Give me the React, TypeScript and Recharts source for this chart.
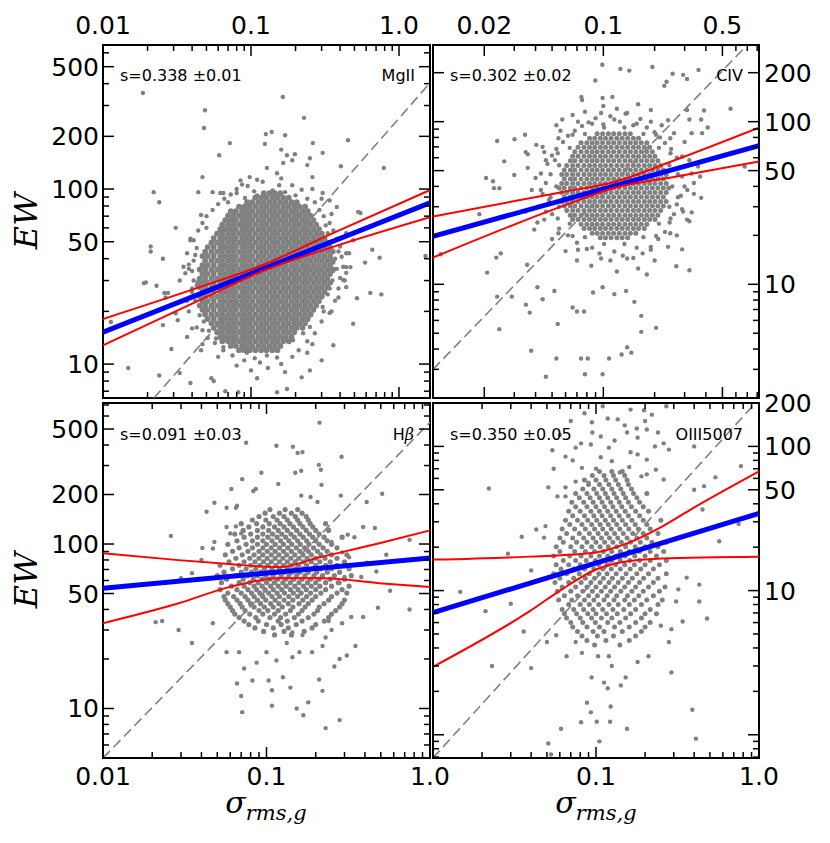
import React from "react";
import { ComposedChart, Scatter, Line, XAxis, YAxis, ReferenceArea } from "recharts";

type Row = [number, number[]]; // [EW, sigma values on that row]
type Pair = [number, number]; // [sigma, EW]

// ---------- MgII (top left) ----------
const MGII_CORE: Row[] = [
  [12.0, [0.083, 0.09, 0.098, 0.107, 0.117, 0.127, 0.139, 0.151]],
  [12.7, [0.073, 0.079, 0.087, 0.094, 0.102, 0.112, 0.122, 0.133, 0.145, 0.158]],
  [13.5, [0.064, 0.07, 0.076, 0.083, 0.09, 0.098, 0.107, 0.117, 0.127, 0.139, 0.151, 0.165, 0.18]],
  [14.3, [0.062, 0.067, 0.073, 0.079, 0.087, 0.094, 0.102, 0.112, 0.122, 0.133, 0.145, 0.158, 0.172, 0.188]],
  [15.2, [0.059, 0.064, 0.07, 0.076, 0.083, 0.09, 0.098, 0.107, 0.117, 0.127, 0.139, 0.151, 0.165, 0.18, 0.196]],
  [16.1, [0.056, 0.062, 0.067, 0.073, 0.079, 0.087, 0.094, 0.102, 0.112, 0.122, 0.133, 0.145, 0.158, 0.172, 0.188, 0.204, 0.223]],
  [17.1, [0.054, 0.059, 0.064, 0.07, 0.076, 0.083, 0.09, 0.098, 0.107, 0.117, 0.127, 0.139, 0.151, 0.165, 0.18, 0.196, 0.213, 0.232]],
  [18.1, [0.051, 0.056, 0.062, 0.067, 0.073, 0.079, 0.087, 0.094, 0.102, 0.112, 0.122, 0.133, 0.145, 0.158, 0.172, 0.188, 0.204, 0.223, 0.242]],
  [19.2, [0.049, 0.054, 0.059, 0.064, 0.07, 0.076, 0.083, 0.09, 0.098, 0.107, 0.117, 0.127, 0.139, 0.151, 0.165, 0.18, 0.196, 0.213, 0.232, 0.253]],
  [20.4, [0.047, 0.051, 0.056, 0.062, 0.067, 0.073, 0.079, 0.087, 0.094, 0.102, 0.112, 0.122, 0.133, 0.145, 0.158, 0.172, 0.188, 0.204, 0.223, 0.242, 0.264]],
  [21.6, [0.045, 0.049, 0.054, 0.059, 0.064, 0.07, 0.076, 0.083, 0.09, 0.098, 0.107, 0.117, 0.127, 0.139, 0.151, 0.165, 0.18, 0.196, 0.213, 0.232, 0.253, 0.276]],
  [22.9, [0.047, 0.051, 0.056, 0.062, 0.067, 0.073, 0.079, 0.087, 0.094, 0.102, 0.112, 0.122, 0.133, 0.145, 0.158, 0.172, 0.188, 0.204, 0.223, 0.242, 0.264, 0.288]],
  [24.3, [0.045, 0.049, 0.054, 0.059, 0.064, 0.07, 0.076, 0.083, 0.09, 0.098, 0.107, 0.117, 0.127, 0.139, 0.151, 0.165, 0.18, 0.196, 0.213, 0.232, 0.253, 0.276, 0.301]],
  [25.8, [0.047, 0.051, 0.056, 0.062, 0.067, 0.073, 0.079, 0.087, 0.094, 0.102, 0.112, 0.122, 0.133, 0.145, 0.158, 0.172, 0.188, 0.204, 0.223, 0.242, 0.264, 0.288, 0.314]],
  [27.4, [0.045, 0.049, 0.054, 0.059, 0.064, 0.07, 0.076, 0.083, 0.09, 0.098, 0.107, 0.117, 0.127, 0.139, 0.151, 0.165, 0.18, 0.196, 0.213, 0.232, 0.253, 0.276, 0.301, 0.328]],
  [29.1, [0.044, 0.047, 0.051, 0.056, 0.062, 0.067, 0.073, 0.079, 0.087, 0.094, 0.102, 0.112, 0.122, 0.133, 0.145, 0.158, 0.172, 0.188, 0.204, 0.223, 0.242, 0.264, 0.288, 0.314, 0.342]],
  [30.8, [0.045, 0.049, 0.054, 0.059, 0.064, 0.07, 0.076, 0.083, 0.09, 0.098, 0.107, 0.117, 0.127, 0.139, 0.151, 0.165, 0.18, 0.196, 0.213, 0.232, 0.253, 0.276, 0.301, 0.328]],
  [32.7, [0.047, 0.051, 0.056, 0.062, 0.067, 0.073, 0.079, 0.087, 0.094, 0.102, 0.112, 0.122, 0.133, 0.145, 0.158, 0.172, 0.188, 0.204, 0.223, 0.242, 0.264, 0.288, 0.314, 0.342]],
  [34.7, [0.045, 0.049, 0.054, 0.059, 0.064, 0.07, 0.076, 0.083, 0.09, 0.098, 0.107, 0.117, 0.127, 0.139, 0.151, 0.165, 0.18, 0.196, 0.213, 0.232, 0.253, 0.276, 0.301, 0.328, 0.357]],
  [36.8, [0.047, 0.051, 0.056, 0.062, 0.067, 0.073, 0.079, 0.087, 0.094, 0.102, 0.112, 0.122, 0.133, 0.145, 0.158, 0.172, 0.188, 0.204, 0.223, 0.242, 0.264, 0.288, 0.314, 0.342]],
  [39.0, [0.049, 0.054, 0.059, 0.064, 0.07, 0.076, 0.083, 0.09, 0.098, 0.107, 0.117, 0.127, 0.139, 0.151, 0.165, 0.18, 0.196, 0.213, 0.232, 0.253, 0.276, 0.301, 0.328, 0.357]],
  [41.4, [0.047, 0.051, 0.056, 0.062, 0.067, 0.073, 0.079, 0.087, 0.094, 0.102, 0.112, 0.122, 0.133, 0.145, 0.158, 0.172, 0.188, 0.204, 0.223, 0.242, 0.264, 0.288, 0.314, 0.342]],
  [43.9, [0.049, 0.054, 0.059, 0.064, 0.07, 0.076, 0.083, 0.09, 0.098, 0.107, 0.117, 0.127, 0.139, 0.151, 0.165, 0.18, 0.196, 0.213, 0.232, 0.253, 0.276, 0.301, 0.328, 0.357]],
  [46.6, [0.051, 0.056, 0.062, 0.067, 0.073, 0.079, 0.087, 0.094, 0.102, 0.112, 0.122, 0.133, 0.145, 0.158, 0.172, 0.188, 0.204, 0.223, 0.242, 0.264, 0.288, 0.314, 0.342]],
  [49.4, [0.054, 0.059, 0.064, 0.07, 0.076, 0.083, 0.09, 0.098, 0.107, 0.117, 0.127, 0.139, 0.151, 0.165, 0.18, 0.196, 0.213, 0.232, 0.253, 0.276, 0.301, 0.328]],
  [52.4, [0.056, 0.062, 0.067, 0.073, 0.079, 0.087, 0.094, 0.102, 0.112, 0.122, 0.133, 0.145, 0.158, 0.172, 0.188, 0.204, 0.223, 0.242, 0.264, 0.288, 0.314]],
  [55.6, [0.059, 0.064, 0.07, 0.076, 0.083, 0.09, 0.098, 0.107, 0.117, 0.127, 0.139, 0.151, 0.165, 0.18, 0.196, 0.213, 0.232, 0.253, 0.276, 0.301]],
  [59.0, [0.062, 0.067, 0.073, 0.079, 0.087, 0.094, 0.102, 0.112, 0.122, 0.133, 0.145, 0.158, 0.172, 0.188, 0.204, 0.223, 0.242, 0.264, 0.288]],
  [62.6, [0.064, 0.07, 0.076, 0.083, 0.09, 0.098, 0.107, 0.117, 0.127, 0.139, 0.151, 0.165, 0.18, 0.196, 0.213, 0.232, 0.253, 0.276]],
  [66.4, [0.067, 0.073, 0.079, 0.087, 0.094, 0.102, 0.112, 0.122, 0.133, 0.145, 0.158, 0.172, 0.188, 0.204, 0.223, 0.242, 0.264]],
  [70.4, [0.07, 0.076, 0.083, 0.09, 0.098, 0.107, 0.117, 0.127, 0.139, 0.151, 0.165, 0.18, 0.196, 0.213, 0.232, 0.253]],
  [74.7, [0.073, 0.079, 0.087, 0.094, 0.102, 0.112, 0.122, 0.133, 0.145, 0.158, 0.172, 0.188, 0.204, 0.223, 0.242]],
  [79.3, [0.083, 0.09, 0.098, 0.107, 0.117, 0.127, 0.139, 0.151, 0.165, 0.18, 0.196, 0.213, 0.232]],
  [84.1, [0.094, 0.102, 0.112, 0.122, 0.133, 0.145, 0.158, 0.172, 0.188, 0.204]],
  [89.2, [0.107, 0.117, 0.127, 0.139, 0.151, 0.165, 0.18]],
  [94.7, [0.122, 0.133, 0.145, 0.158]],
];
const MGII_SPREAD: Pair[] = [
  [0.0186, 354], [0.0489, 282], [0.0482, 223], [0.164, 336], [0.228, 255], [0.126, 206], [0.138, 212], [0.17, 203],
  [0.072, 183], [0.061, 156], [0.124, 181], [0.16, 168], [0.175, 156], [0.198, 158], [0.262, 183], [0.305, 161],
  [0.452, 190], [0.79, 132], [0.405, 135], [0.25, 150], [0.022, 96], [0.024, 84], [0.031, 60], [0.021, 47],
  [0.021, 44], [0.0254, 40], [0.0189, 29], [0.0195, 29.3], [0.023, 28], [0.026, 25.5], [0.0148, 9.5], [0.0113, 17.4],
  [0.0254, 16.7], [0.029, 12.2], [0.024, 8.6], [0.039, 7.8], [0.033, 8.9], [0.046, 12], [0.054, 8.3], [0.056, 8.0],
  [0.067, 7], [0.082, 6.9], [0.11, 8.3], [0.15, 6.9], [0.175, 7.2], [0.22, 8.4], [0.25, 9.2], [0.24, 11.6],
  [0.3, 10.5], [0.36, 12.8], [0.49, 17], [0.52, 23.8], [0.64, 25.5], [0.76, 25], [0.66, 45], [0.74, 40.5],
  [0.59, 38], [0.44, 35.8], [0.44, 33.2], [0.44, 27.5], [0.55, 73], [1.51, 41.4],
  [0.047, 117], [0.044, 96], [0.055, 96], [0.065, 95], [0.041, 51], [0.039, 51], [0.035, 36], [0.038, 35],
  [0.0275, 25.5], [0.0265, 24], [0.031, 19.5], [0.032, 17.8], [0.037, 23], [0.04, 25.8], [0.043, 16.2], [0.047, 15.6],
  [0.037, 14.3], [0.051, 14.1], [0.057, 13.2], [0.065, 12.5], [0.094, 11.6], [0.106, 10.8], [0.128, 11.2], [0.15, 10.9],
  [0.192, 13.7], [0.225, 15], [0.25, 16.3], [0.305, 21.2], [0.34, 19.6], [0.39, 24], [0.42, 30.2], [0.47, 35.8],
  [0.44, 43], [0.49, 51], [0.53, 74], [0.38, 79], [0.34, 86], [0.305, 95], [0.26, 117], [0.24, 137],
  [0.19, 146], [0.15, 123], [0.165, 141], [0.128, 132], [0.11, 113], [0.087, 106], [0.098, 117], [0.08, 95],
  [0.091, 89], [0.11, 92],
  [0.038, 20], [0.04, 27], [0.036, 33], [0.041, 39], [0.043, 46], [0.039, 52], [0.044, 58], [0.047, 64],
  [0.05, 70], [0.055, 76], [0.06, 82], [0.066, 88], [0.073, 93], [0.08, 100], [0.095, 104], [0.105, 97],
  [0.14, 98], [0.155, 105], [0.17, 96], [0.2, 92], [0.22, 99], [0.24, 88], [0.27, 84], [0.29, 76],
  [0.31, 70], [0.34, 64], [0.36, 58], [0.38, 52], [0.4, 47], [0.41, 41], [0.42, 36], [0.4, 31],
  [0.39, 27], [0.37, 23], [0.35, 20], [0.3, 17.5], [0.27, 15], [0.24, 13.5], [0.21, 12], [0.19, 11],
  [0.16, 10], [0.13, 9.5], [0.115, 10.2], [0.09, 10.5], [0.075, 11.2], [0.065, 12], [0.058, 14], [0.052, 15.5],
  [0.048, 17.5], [0.045, 19], [0.042, 23], [0.033, 30], [0.037, 43], [0.046, 71], [0.062, 95], [0.12, 110],
  [0.19, 105], [0.3, 88], [0.35, 72], [0.44, 56], [0.46, 43], [0.36, 34], [0.43, 30], [0.33, 25],
  [0.31, 20], [0.26, 13], [0.17, 9], [0.1, 9.2], [0.08, 9.8], [0.06, 11], [0.047, 13], [0.04, 16],
  [0.038, 37], [0.05, 60], [0.07, 84], [0.085, 112], [0.16, 115], [0.26, 100],
  [0.35, 45], [0.37, 40], [0.355, 30], [0.345, 50], [0.38, 35], [0.33, 56], [0.32, 62], [0.34, 27],
  [0.36, 38], [0.39, 44], [0.041, 30], [0.04, 34], [0.042, 42], [0.039, 24], [0.043, 28],
];
const MGII_FIT: Pair[] = [[0.01, 15.2], [1.62, 83.3]];
const MGII_UPPER: Pair[] = [[0.01, 18.1], [0.045, 27.5], [0.12, 36.8], [0.358, 56], [1.62, 98.6]];
const MGII_LOWER: Pair[] = [[0.01, 12.8], [0.045, 23.2], [0.12, 34.0], [0.358, 46.7], [1.62, 69]];
const MGII_DIAG: Pair[] = [[0.0221, 6.4], [1.62, 404]];

// ---------- CIV (top right) ----------
const CIV_CORE: Row[] = [
  [19.3, [0.096, 0.103, 0.111, 0.12, 0.129, 0.139]],
  [20.6, [0.086, 0.092, 0.099, 0.107, 0.115, 0.124, 0.134, 0.144, 0.155]],
  [22.0, [0.077, 0.083, 0.089, 0.096, 0.103, 0.111, 0.12, 0.129, 0.139, 0.15, 0.161, 0.174]],
  [23.4, [0.074, 0.08, 0.086, 0.092, 0.099, 0.107, 0.115, 0.124, 0.134, 0.144, 0.155, 0.167, 0.18]],
  [25.0, [0.066, 0.071, 0.077, 0.083, 0.089, 0.096, 0.103, 0.111, 0.12, 0.129, 0.139, 0.15, 0.161, 0.174, 0.187, 0.201]],
  [26.6, [0.064, 0.068, 0.074, 0.08, 0.086, 0.092, 0.099, 0.107, 0.115, 0.124, 0.134, 0.144, 0.155, 0.167, 0.18, 0.194, 0.209]],
  [28.4, [0.061, 0.066, 0.071, 0.077, 0.083, 0.089, 0.096, 0.103, 0.111, 0.12, 0.129, 0.139, 0.15, 0.161, 0.174, 0.187, 0.201, 0.217]],
  [30.3, [0.059, 0.064, 0.068, 0.074, 0.08, 0.086, 0.092, 0.099, 0.107, 0.115, 0.124, 0.134, 0.144, 0.155, 0.167, 0.18, 0.194, 0.209, 0.225]],
  [32.3, [0.057, 0.061, 0.066, 0.071, 0.077, 0.083, 0.089, 0.096, 0.103, 0.111, 0.12, 0.129, 0.139, 0.15, 0.161, 0.174, 0.187, 0.201, 0.217, 0.234]],
  [34.4, [0.059, 0.064, 0.068, 0.074, 0.08, 0.086, 0.092, 0.099, 0.107, 0.115, 0.124, 0.134, 0.144, 0.155, 0.167, 0.18, 0.194, 0.209, 0.225]],
  [36.7, [0.057, 0.061, 0.066, 0.071, 0.077, 0.083, 0.089, 0.096, 0.103, 0.111, 0.12, 0.129, 0.139, 0.15, 0.161, 0.174, 0.187, 0.201, 0.217, 0.234]],
  [39.1, [0.055, 0.059, 0.064, 0.068, 0.074, 0.08, 0.086, 0.092, 0.099, 0.107, 0.115, 0.124, 0.134, 0.144, 0.155, 0.167, 0.18, 0.194, 0.209, 0.225, 0.242]],
  [41.7, [0.057, 0.061, 0.066, 0.071, 0.077, 0.083, 0.089, 0.096, 0.103, 0.111, 0.12, 0.129, 0.139, 0.15, 0.161, 0.174, 0.187, 0.201, 0.217, 0.234]],
  [44.4, [0.059, 0.064, 0.068, 0.074, 0.08, 0.086, 0.092, 0.099, 0.107, 0.115, 0.124, 0.134, 0.144, 0.155, 0.167, 0.18, 0.194, 0.209, 0.225]],
  [47.4, [0.057, 0.061, 0.066, 0.071, 0.077, 0.083, 0.089, 0.096, 0.103, 0.111, 0.12, 0.129, 0.139, 0.15, 0.161, 0.174, 0.187, 0.201, 0.217, 0.234]],
  [50.5, [0.059, 0.064, 0.068, 0.074, 0.08, 0.086, 0.092, 0.099, 0.107, 0.115, 0.124, 0.134, 0.144, 0.155, 0.167, 0.18, 0.194, 0.209, 0.225]],
  [53.8, [0.061, 0.066, 0.071, 0.077, 0.083, 0.089, 0.096, 0.103, 0.111, 0.12, 0.129, 0.139, 0.15, 0.161, 0.174, 0.187, 0.201, 0.217]],
  [57.4, [0.064, 0.068, 0.074, 0.08, 0.086, 0.092, 0.099, 0.107, 0.115, 0.124, 0.134, 0.144, 0.155, 0.167, 0.18, 0.194, 0.209]],
  [61.2, [0.066, 0.071, 0.077, 0.083, 0.089, 0.096, 0.103, 0.111, 0.12, 0.129, 0.139, 0.15, 0.161, 0.174, 0.187, 0.201]],
  [65.2, [0.068, 0.074, 0.08, 0.086, 0.092, 0.099, 0.107, 0.115, 0.124, 0.134, 0.144, 0.155, 0.167, 0.18, 0.194]],
  [69.5, [0.071, 0.077, 0.083, 0.089, 0.096, 0.103, 0.111, 0.12, 0.129, 0.139, 0.15, 0.161, 0.174, 0.187]],
  [74.1, [0.074, 0.08, 0.086, 0.092, 0.099, 0.107, 0.115, 0.124, 0.134, 0.144, 0.155, 0.167, 0.18]],
  [79.0, [0.083, 0.089, 0.096, 0.103, 0.111, 0.12, 0.129, 0.139, 0.15, 0.161]],
  [84.2, [0.092, 0.099, 0.107, 0.115, 0.124, 0.134, 0.144]],
];
const CIV_SPREAD: Pair[] = [
  [0.0986, 224], [0.126, 211], [0.142, 206], [0.194, 217], [0.0897, 179], [0.255, 197], [0.294, 194], [0.31, 183],
  [0.362, 208], [0.235, 176], [0.228, 166], [0.558, 120], [0.39, 117], [0.375, 103], [0.41, 92], [0.38, 85],
  [0.0743, 142], [0.075, 136], [0.099, 140], [0.113, 142], [0.0574, 103], [0.053, 95], [0.0347, 83], [0.0301, 78],
  [0.0238, 76], [0.0404, 72], [0.044, 70], [0.035, 65], [0.036, 63], [0.0262, 57], [0.03, 47], [0.0205, 45],
  [0.0225, 43], [0.0245, 39], [0.0228, 39], [0.0187, 27], [0.0111, 15.3], [0.0235, 14.6], [0.025, 15.5], [0.0208, 11.8],
  [0.0357, 13.2], [0.0393, 21.7], [0.041, 24], [0.0238, 8.4], [0.029, 8.4], [0.0245, 5.3], [0.0351, 7.5], [0.037, 6.7],
  [0.041, 9.6], [0.044, 8.1], [0.0516, 9.1], [0.054, 5.7], [0.0377, 3.9], [0.053, 3.5], [0.046, 2.7], [0.074, 3.5],
  [0.081, 3.5], [0.078, 2.8], [0.099, 2.8], [0.108, 3.5], [0.128, 3.7], [0.138, 4.1], [0.146, 3.8], [0.167, 5.1],
  [0.204, 5.4], [0.167, 6.4], [0.066, 7.2], [0.07, 6.8], [0.077, 6.8], [0.087, 8.9], [0.099, 9.6], [0.116, 8.7],
  [0.136, 9.1], [0.152, 7.8], [0.18, 11.5], [0.268, 12.9], [0.32, 12.2], [0.29, 16.4], [0.32, 24.4], [0.33, 27.7],
  [0.375, 34], [0.34, 42], [0.37, 46], [0.36, 53], [0.33, 85], [0.32, 103], [0.31, 118], [0.675, 53],
  [0.045, 25], [0.042, 30], [0.044, 36], [0.046, 42], [0.043, 48], [0.047, 55], [0.05, 62], [0.053, 68],
  [0.058, 75], [0.062, 82], [0.068, 88], [0.075, 94], [0.082, 99], [0.09, 105], [0.1, 96], [0.11, 108],
  [0.125, 100], [0.135, 112], [0.15, 95], [0.165, 104], [0.18, 92], [0.2, 86], [0.215, 80], [0.23, 74],
  [0.25, 68], [0.27, 60], [0.28, 52], [0.29, 46], [0.3, 40], [0.285, 35], [0.27, 31], [0.26, 27],
  [0.245, 24], [0.23, 21], [0.21, 19], [0.19, 17], [0.17, 15.5], [0.15, 14.5], [0.13, 15], [0.11, 14],
  [0.095, 15.5], [0.08, 16.5], [0.07, 18], [0.062, 20], [0.055, 22], [0.05, 27], [0.048, 33], [0.038, 38],
  [0.04, 45], [0.036, 52], [0.052, 58], [0.066, 110], [0.078, 115], [0.12, 120], [0.19, 118], [0.22, 95],
  [0.26, 85], [0.32, 58], [0.34, 36], [0.31, 25], [0.27, 20], [0.2, 14], [0.12, 12], [0.085, 13],
  [0.06, 16], [0.05, 19], [0.035, 28], [0.045, 65], [0.056, 88], [0.1, 125], [0.16, 128], [0.24, 102],
  [0.3, 75], [0.33, 48], [0.29, 29], [0.24, 17], [0.16, 12.5], [0.07, 14],
  [0.254, 40], [0.244, 54], [0.212, 69], [0.172, 84], [0.133, 92], [0.101, 92], [0.078, 84], [0.0635, 69],
  [0.055, 54], [0.053, 40], [0.055, 30], [0.0635, 23.6], [0.078, 19.5], [0.101, 17.7], [0.133, 17.7], [0.172, 19.5],
  [0.212, 23.6], [0.244, 30],
  [0.274, 47.5], [0.248, 64], [0.204, 83], [0.157, 97], [0.116, 103], [0.086, 97], [0.066, 83], [0.054, 64],
  [0.049, 47.5], [0.049, 34.3], [0.054, 25.4], [0.066, 19.8], [0.086, 16.8], [0.116, 15.9], [0.157, 16.8], [0.204, 19.8],
  [0.248, 25.4], [0.274, 34.3],
  [0.311, 38], [0.29, 61], [0.247, 79], [0.19, 100], [0.138, 113], [0.097, 113], [0.071, 100], [0.0545, 79],
  [0.046, 58], [0.043, 38], [0.046, 28], [0.0545, 20.6], [0.071, 16.3], [0.097, 14.4], [0.138, 14.4], [0.19, 16.3],
  [0.247, 20.6], [0.294, 28],
];
const CIV_FIT: Pair[] = [[0.01, 19.7], [0.82, 71.3]];
const CIV_UPPER: Pair[] = [[0.01, 26.1], [0.055, 36.6], [0.119, 42.9], [0.269, 58.5], [0.82, 91.9]];
const CIV_LOWER: Pair[] = [[0.01, 14.6], [0.055, 29.7], [0.119, 39.4], [0.269, 46], [0.82, 56.9]];
const CIV_DIAG: Pair[] = [[0.01, 3.0], [0.7, 296]];

// ---------- Hbeta (bottom left) ----------
const HB_CORE: Row[] = [
  [28, [0.112, 0.142]],
  [29.4, [0.096, 0.128, 0.17]],
  [30.9, [0.085, 0.11, 0.136, 0.19]],
  [32.4, [0.078, 0.1, 0.123, 0.152, 0.2]],
  [34, [0.073, 0.089, 0.118, 0.134, 0.165, 0.226]],
  [35.7, [0.068, 0.086, 0.105, 0.122, 0.148, 0.18, 0.24]],
  [37.5, [0.064, 0.079, 0.095, 0.112, 0.131, 0.157, 0.195, 0.25]],
  [39.4, [0.062, 0.074, 0.09, 0.102, 0.118, 0.14, 0.165, 0.205, 0.265]],
  [41.4, [0.06, 0.071, 0.084, 0.097, 0.11, 0.125, 0.145, 0.172, 0.21, 0.28]],
  [43.4, [0.058, 0.069, 0.08, 0.092, 0.106, 0.119, 0.136, 0.158, 0.18, 0.225, 0.29]],
  [45.6, [0.056, 0.066, 0.077, 0.088, 0.099, 0.113, 0.128, 0.145, 0.167, 0.19, 0.24, 0.3]],
  [47.9, [0.055, 0.063, 0.074, 0.084, 0.095, 0.108, 0.12, 0.137, 0.155, 0.176, 0.2, 0.25]],
  [50.3, [0.058, 0.07, 0.081, 0.091, 0.103, 0.116, 0.129, 0.146, 0.163, 0.186, 0.215, 0.27, 0.31]],
  [52.8, [0.052, 0.066, 0.077, 0.087, 0.098, 0.11, 0.124, 0.14, 0.156, 0.175, 0.2, 0.23, 0.29]],
  [55.4, [0.061, 0.073, 0.084, 0.094, 0.106, 0.118, 0.132, 0.149, 0.168, 0.188, 0.212, 0.25, 0.32]],
  [58.2, [0.053, 0.068, 0.079, 0.089, 0.1, 0.112, 0.126, 0.14, 0.158, 0.178, 0.2, 0.23, 0.275]],
  [61.1, [0.057, 0.072, 0.083, 0.094, 0.105, 0.117, 0.131, 0.147, 0.165, 0.186, 0.21, 0.245, 0.3]],
  [64.2, [0.05, 0.065, 0.077, 0.088, 0.099, 0.11, 0.123, 0.137, 0.153, 0.172, 0.195, 0.22, 0.26, 0.33]],
  [67.4, [0.055, 0.07, 0.081, 0.092, 0.103, 0.115, 0.128, 0.143, 0.16, 0.18, 0.203, 0.235, 0.28]],
  [70.7, [0.062, 0.075, 0.086, 0.097, 0.108, 0.12, 0.134, 0.15, 0.168, 0.19, 0.215, 0.25, 0.32]],
  [74.3, [0.052, 0.068, 0.08, 0.091, 0.102, 0.114, 0.127, 0.141, 0.157, 0.176, 0.2, 0.23, 0.27]],
  [78, [0.059, 0.073, 0.085, 0.096, 0.107, 0.12, 0.134, 0.15, 0.168, 0.188, 0.212, 0.245, 0.3]],
  [81.9, [0.065, 0.079, 0.09, 0.101, 0.113, 0.126, 0.141, 0.158, 0.177, 0.2, 0.228, 0.27]],
  [86, [0.056, 0.071, 0.084, 0.095, 0.107, 0.119, 0.133, 0.149, 0.167, 0.188, 0.215, 0.25, 0.31]],
  [90.3, [0.062, 0.077, 0.09, 0.101, 0.113, 0.127, 0.142, 0.16, 0.18, 0.205, 0.235]],
  [94.8, [0.068, 0.082, 0.095, 0.107, 0.12, 0.135, 0.152, 0.171, 0.194, 0.222, 0.27]],
  [99.5, [0.058, 0.075, 0.088, 0.1, 0.113, 0.127, 0.143, 0.161, 0.182, 0.21, 0.25]],
  [104.5, [0.066, 0.082, 0.095, 0.108, 0.122, 0.137, 0.155, 0.176, 0.2, 0.235]],
  [110, [0.073, 0.088, 0.102, 0.116, 0.131, 0.148, 0.168, 0.192, 0.225, 0.29]],
  [115, [0.064, 0.08, 0.095, 0.109, 0.124, 0.141, 0.16, 0.183, 0.21]],
  [121, [0.072, 0.088, 0.103, 0.118, 0.134, 0.153, 0.175, 0.2, 0.24]],
  [127, [0.078, 0.095, 0.112, 0.128, 0.146, 0.167, 0.192]],
  [133, [0.07, 0.087, 0.104, 0.121, 0.139, 0.16, 0.185, 0.23]],
  [140, [0.082, 0.099, 0.116, 0.134, 0.155, 0.18]],
  [147, [0.09, 0.11, 0.128, 0.15, 0.175]],
  [154, [0.098, 0.12, 0.142, 0.165]],
  [162, [0.105, 0.13, 0.155]],
];
const HB_SPREAD: Pair[] = [
  [0.211, 547], [0.075, 413], [0.115, 396], [0.145, 390], [0.155, 358], [0.166, 362], [0.288, 339], [0.209, 303],
  [0.215, 283], [0.163, 279], [0.15, 271], [0.093, 271], [0.071, 248], [0.061, 216], [0.083, 210], [0.086, 216],
  [0.118, 232], [0.217, 229], [0.285, 197], [0.41, 180], [0.51, 202], [0.048, 178], [0.043, 157], [0.057, 166],
  [0.065, 166], [0.066, 171], [0.163, 197], [0.186, 193], [0.205, 180], [0.026, 112], [0.035, 66.5], [0.03, 62],
  [0.0405, 94.5], [0.04, 80], [0.048, 103], [0.047, 94], [0.057, 127], [0.065, 128], [0.06, 116], [0.07, 116],
  [0.314, 114], [0.39, 127], [0.46, 125], [0.54, 86], [0.75, 106], [0.41, 77], [0.38, 63], [0.47, 68],
  [0.57, 52], [0.48, 41], [0.75, 40], [0.39, 36], [0.33, 36], [0.29, 33], [0.35, 24], [0.31, 21],
  [0.28, 20], [0.26, 18], [0.22, 24], [0.19, 22], [0.21, 15], [0.22, 12.8], [0.18, 10.9], [0.168, 9.1],
  [0.28, 8.5], [0.23, 7.6], [0.153, 10], [0.14, 13.4], [0.126, 15.5], [0.108, 10.4], [0.108, 12.9], [0.103, 14.8],
  [0.071, 9.5], [0.07, 11.9], [0.066, 14.2], [0.082, 14.8], [0.073, 17.5], [0.087, 19], [0.1, 22], [0.115, 19.6],
  [0.144, 20.5], [0.159, 22], [0.057, 22], [0.068, 22], [0.035, 25], [0.047, 33], [0.029, 30], [0.021, 33.5],
  [0.023, 34], [0.28, 58], [0.3, 63], [0.32, 83], [0.29, 89], [0.25, 103], [0.24, 122], [0.345, 110],
  [0.24, 34], [0.25, 30], [0.23, 27], [0.144, 29], [0.166, 28], [0.133, 25],
];
const HB_FIT: Pair[] = [[0.01, 53.9], [1.0, 82.2]];
const HB_UPPER: Pair[] = [[0.01, 88], [0.029, 79.8], [0.059, 75.5], [0.12, 72.4], [0.211, 83], [0.49, 101], [1.0, 121]];
const HB_LOWER: Pair[] = [[0.01, 33], [0.029, 43.6], [0.059, 54.7], [0.12, 62], [0.22, 62], [0.49, 57.8], [1.0, 54.7]];
const HB_DIAG: Pair[] = [[0.01, 5.0], [1.0, 550]];

// ---------- OIII5007 (bottom right) ----------
const OIII_CORE: Row[] = [
  [4.2, [0.098, 0.14]],
  [4.5, [0.088, 0.115, 0.16]],
  [4.85, [0.082, 0.102, 0.128, 0.175]],
  [5.2, [0.077, 0.096, 0.112, 0.145, 0.19]],
  [5.6, [0.072, 0.088, 0.105, 0.13, 0.16, 0.2]],
  [6.0, [0.07, 0.083, 0.099, 0.118, 0.14, 0.175, 0.215]],
  [6.45, [0.066, 0.08, 0.094, 0.108, 0.125, 0.152, 0.19]],
  [6.9, [0.064, 0.076, 0.089, 0.1, 0.116, 0.135, 0.163, 0.2, 0.235]],
  [7.4, [0.062, 0.073, 0.084, 0.096, 0.11, 0.127, 0.148, 0.175, 0.215]],
  [8.0, [0.068, 0.08, 0.091, 0.104, 0.12, 0.137, 0.16, 0.19, 0.24]],
  [8.6, [0.059, 0.071, 0.085, 0.097, 0.112, 0.129, 0.15, 0.172, 0.205, 0.255]],
  [9.2, [0.064, 0.077, 0.09, 0.102, 0.117, 0.134, 0.156, 0.183, 0.225]],
  [9.9, [0.058, 0.07, 0.083, 0.095, 0.108, 0.123, 0.142, 0.166, 0.195, 0.245]],
  [10.6, [0.062, 0.075, 0.088, 0.1, 0.114, 0.13, 0.15, 0.175, 0.21, 0.265]],
  [11.4, [0.056, 0.068, 0.081, 0.093, 0.106, 0.12, 0.137, 0.158, 0.185, 0.225]],
  [12.2, [0.06, 0.073, 0.086, 0.098, 0.111, 0.126, 0.145, 0.167, 0.196, 0.24]],
  [13.1, [0.055, 0.066, 0.079, 0.091, 0.104, 0.117, 0.133, 0.153, 0.178, 0.21, 0.27]],
  [14.1, [0.061, 0.073, 0.085, 0.097, 0.11, 0.124, 0.141, 0.162, 0.188, 0.225]],
  [15.1, [0.057, 0.068, 0.08, 0.092, 0.104, 0.117, 0.132, 0.15, 0.172, 0.2, 0.245]],
  [16.2, [0.063, 0.075, 0.087, 0.099, 0.111, 0.125, 0.141, 0.161, 0.185, 0.215, 0.27]],
  [17.4, [0.055, 0.069, 0.081, 0.093, 0.105, 0.118, 0.133, 0.151, 0.173, 0.2, 0.235]],
  [18.7, [0.06, 0.074, 0.086, 0.098, 0.111, 0.125, 0.141, 0.16, 0.185, 0.215, 0.26]],
  [20.1, [0.057, 0.07, 0.082, 0.094, 0.106, 0.119, 0.134, 0.152, 0.174, 0.2, 0.24]],
  [21.6, [0.063, 0.076, 0.088, 0.1, 0.113, 0.127, 0.143, 0.163, 0.187, 0.22, 0.27]],
  [23.2, [0.06, 0.072, 0.084, 0.096, 0.108, 0.121, 0.136, 0.155, 0.178, 0.205]],
  [24.9, [0.066, 0.079, 0.091, 0.103, 0.116, 0.13, 0.147, 0.168, 0.195, 0.24]],
  [26.7, [0.062, 0.074, 0.086, 0.098, 0.11, 0.124, 0.14, 0.159, 0.182, 0.215]],
  [28.7, [0.069, 0.082, 0.094, 0.106, 0.119, 0.134, 0.152, 0.174, 0.205]],
  [30.8, [0.065, 0.077, 0.089, 0.101, 0.114, 0.128, 0.145, 0.166, 0.195, 0.25]],
  [33.1, [0.072, 0.085, 0.097, 0.109, 0.123, 0.139, 0.158, 0.185]],
  [35.5, [0.068, 0.08, 0.093, 0.105, 0.118, 0.133, 0.151, 0.175, 0.21]],
  [38.1, [0.075, 0.088, 0.1, 0.113, 0.127, 0.144, 0.165, 0.195]],
  [41, [0.071, 0.084, 0.096, 0.109, 0.123, 0.139, 0.158, 0.185]],
  [44, [0.079, 0.092, 0.105, 0.118, 0.134, 0.152, 0.178]],
  [47.2, [0.075, 0.088, 0.101, 0.114, 0.129, 0.147, 0.17, 0.205]],
  [50.7, [0.083, 0.097, 0.11, 0.125, 0.142, 0.165]],
  [54.5, [0.09, 0.105, 0.12, 0.137, 0.158]],
  [58.5, [0.085, 0.1, 0.115, 0.132, 0.155]],
  [62.8, [0.095, 0.112, 0.128, 0.15]],
  [67, [0.105, 0.125, 0.145]],
];
const OIII_SPREAD: Pair[] = [
  [0.0944, 147], [0.118, 156], [0.136, 154], [0.163, 180], [0.197, 178], [0.27, 190], [0.22, 166], [0.205, 131],
  [0.155, 125], [0.178, 133], [0.107, 117], [0.093, 103], [0.081, 105], [0.054, 94], [0.4, 100], [0.28, 95],
  [0.072, 80], [0.082, 71], [0.107, 84], [0.125, 79], [0.163, 91], [0.18, 88], [0.205, 81], [0.233, 69],
  [0.26, 59], [0.205, 64], [0.775, 73], [0.54, 61], [0.46, 53], [0.4, 50], [0.022, 51], [0.075, 57],
  [0.065, 52], [0.09, 56], [0.051, 52], [0.058, 45], [0.065, 45], [0.45, 36.5], [0.57, 22], [0.75, 29],
  [0.049, 28], [0.043, 26.5], [0.048, 23.3], [0.035, 23.6], [0.0288, 18], [0.04, 13.8], [0.0147, 9.8], [0.021, 7.2],
  [0.03, 8.1], [0.036, 5.2], [0.04, 2.9], [0.023, 3.0], [0.05, 4.4], [0.057, 4.9], [0.066, 3.5], [0.075, 4.4],
  [0.082, 3.7], [0.103, 3.5], [0.12, 3.5], [0.125, 3.0], [0.094, 2.5], [0.112, 2.3], [0.118, 2.1], [0.142, 2.2],
  [0.152, 2.5], [0.18, 3.2], [0.29, 2.7], [0.088, 1.67], [0.093, 1.43], [0.081, 1.22], [0.101, 1.23], [0.122, 1.23],
  [0.123, 1.57], [0.155, 1.1], [0.061, 1.1], [0.051, 0.87], [0.053, 0.73], [0.105, 0.9], [0.39, 1.49], [0.41, 0.94],
  [0.48, 6.4], [0.43, 8.4], [0.31, 8.4], [0.34, 6.1], [0.29, 5.4], [0.25, 5.7], [0.32, 10.2], [0.36, 12.3],
  [0.43, 11], [0.28, 4.4], [0.21, 3.5],
  [0.06, 120], [0.07, 150], [0.085, 170], [0.11, 190], [0.15, 140], [0.18, 115], [0.2, 150], [0.24, 125],
  [0.26, 105], [0.13, 110], [0.095, 125], [0.075, 98], [0.065, 85], [0.12, 98], [0.16, 72], [0.23, 100],
  [0.1, 70], [0.14, 66], [0.19, 62], [0.055, 70],
];
const OIII_FIT: Pair[] = [[0.01, 7.03], [1.0, 34.3]];
const OIII_UPPER: Pair[] = [[0.01, 16.4], [0.0388, 17.2], [0.1, 18.4], [0.159, 21.5], [0.254, 27.8], [0.372, 35.9], [1.0, 67]];
const OIII_LOWER: Pair[] = [[0.01, 2.96], [0.0388, 7.14], [0.0618, 10.2], [0.1, 14], [0.138, 15.6], [0.254, 16.7], [1.0, 17.2]];
const OIII_DIAG: Pair[] = [[0.01, 0.69], [0.95, 200]];

// ---------- ticks ----------
const X_TICKS_FULL = [0.01, 0.02, 0.03, 0.04, 0.05, 0.06, 0.07, 0.08, 0.09, 0.1, 0.2, 0.3, 0.4, 0.5, 0.6, 0.7, 0.8, 0.9, 1];
const X_TICKS_CIV = [0.01, 0.02, 0.03, 0.04, 0.05, 0.06, 0.07, 0.08, 0.09, 0.1, 0.2, 0.3, 0.4, 0.5, 0.6, 0.7, 0.8];
const Y_TICKS_MGII = [7, 8, 9, 10, 20, 30, 40, 50, 60, 70, 80, 90, 100, 200, 300, 400, 500, 600];
const Y_TICKS_CIV = [2, 3, 4, 5, 6, 7, 8, 9, 10, 20, 30, 40, 50, 60, 70, 80, 90, 100, 200];
const Y_TICKS_HB = [5, 6, 7, 8, 9, 10, 20, 30, 40, 50, 60, 70, 80, 90, 100, 200, 300, 400, 500, 600, 700];
const Y_TICKS_OIII = [0.7, 0.8, 0.9, 1, 2, 3, 4, 5, 6, 7, 8, 9, 10, 20, 30, 40, 50, 60, 70, 80, 90, 100, 200];

const MAJOR = 11;
const MINOR = 6;
const AX_H = 30; // band reserved for an x axis
const AX_W = 60; // band reserved for a y axis
const W = 830;
const H = 843;
const TICK_FONT = { fontFamily: "DejaVu Sans", fontSize: 25, fill: "#000" };

const same = (a: number, b: number) => Math.abs(a - b) <= 1e-6 * b;

function xTick(side: "top" | "bottom", span: number, majors: number[], labels: [number, string][]) {
  return (p: any) => {
    const v = p.payload.value;
    const len = majors.some((m) => same(v, m)) ? MAJOR : MINOR;
    const d = side === "top" ? 1 : -1;
    const lab = labels.find(([m]) => same(v, m));
    return (
      <g>
        <line x1={p.x} x2={p.x} y1={p.y} y2={p.y + d * len} stroke="#000" strokeWidth={1.5} />
        <line x1={p.x} x2={p.x} y1={p.y + d * span} y2={p.y + d * (span - len)} stroke="#000" strokeWidth={1.5} />
        {lab && (
          <text x={p.x} y={side === "top" ? p.y - 11 : p.y + 27} textAnchor="middle" {...TICK_FONT}>
            {lab[1]}
          </text>
        )}
      </g>
    );
  };
}

function yTick(side: "left" | "right", span: number, majors: number[], labels: [number, string][]) {
  return (p: any) => {
    const v = p.payload.value;
    const len = majors.some((m) => same(v, m)) ? MAJOR : MINOR;
    const d = side === "left" ? 1 : -1;
    const lab = labels.find(([m]) => same(v, m));
    return (
      <g>
        <line x1={p.x} x2={p.x + d * len} y1={p.y} y2={p.y} stroke="#000" strokeWidth={1.5} />
        <line x1={p.x + d * span} x2={p.x + d * (span - len)} y1={p.y} y2={p.y} stroke="#000" strokeWidth={1.5} />
        {lab && (
          <text
            x={side === "left" ? p.x - 4 : p.x + 5}
            y={p.y + 9}
            textAnchor={side === "left" ? "end" : "start"}
            {...TICK_FONT}
          >
            {lab[1]}
          </text>
        )}
      </g>
    );
  };
}

const rowPoints = (rows: Row[]) => rows.flatMap(([y, xs]) => xs.map((x) => ({ x, y })));
const toXY = (pairs: Pair[]) => pairs.map(([x, y]) => ({ x, y }));

// dense rows stand for heavily overlapping points, so they get a slightly fuller dot
const dot = (r: number) => (p: any) => <circle cx={p.cx} cy={p.cy} r={r} fill="#808080" />;
const SPREAD_DOT = dot(2.2);

interface PanelProps {
  core: Row[];
  coreR: number;
  spread: Pair[];
  fit: Pair[];
  upper: Pair[];
  lower: Pair[];
  diag: Pair[];
  xDomain: [number, number];
  yDomain: [number, number];
  xTicks: number[];
  yTicks: number[];
  xMajor: number[];
  yMajor: number[];
  xLabels: [number, string][];
  yLabels: [number, string][];
  xSide: "top" | "bottom";
  ySide: "left" | "right";
  box: { left: number; top: number; right: number; bottom: number };
}

function Panel(props: PanelProps) {
  const { box } = props;
  const plotW = box.right - box.left;
  const plotH = box.bottom - box.top;
  const margin = {
    top: props.xSide === "top" ? box.top - AX_H : box.top,
    bottom: props.xSide === "bottom" ? H - box.bottom - AX_H : H - box.bottom,
    left: props.ySide === "left" ? box.left - AX_W : box.left,
    right: props.ySide === "right" ? W - box.right - AX_W : W - box.right,
  };
  const axes = (withTicks: boolean) => [
    <XAxis
      key="x"
      dataKey="x"
      type="number"
      scale="log"
      domain={props.xDomain}
      allowDataOverflow
      orientation={props.xSide}
      height={AX_H}
      ticks={props.xTicks}
      interval={0}
      tickSize={0}
      tickMargin={0}
      axisLine={false}
      tickLine={false}
      tick={withTicks ? xTick(props.xSide, plotH, props.xMajor, props.xLabels) : false}
    />,
    <YAxis
      key="y"
      dataKey="y"
      type="number"
      scale="log"
      domain={props.yDomain}
      allowDataOverflow
      orientation={props.ySide}
      width={AX_W}
      ticks={props.yTicks}
      interval={0}
      tickSize={0}
      tickMargin={0}
      axisLine={false}
      tickLine={false}
      tick={withTicks ? yTick(props.ySide, plotW, props.yMajor, props.yLabels) : false}
    />,
  ];
  return (
    <>
      {/* points layer */}
      <div style={{ position: "absolute", left: 0, top: 0 }}>
        <ComposedChart width={W} height={H} margin={margin}>
          {axes(false)}
          <Scatter data={rowPoints(props.core)} shape={dot(props.coreR)} isAnimationActive={false} />
          <Scatter data={toXY(props.spread)} shape={SPREAD_DOT} isAnimationActive={false} />
        </ComposedChart>
      </div>
      {/* lines, frame and ticks on top of the points */}
      <div style={{ position: "absolute", left: 0, top: 0 }}>
        <ComposedChart width={W} height={H} margin={margin}>
          {axes(true)}
          <Line
            data={toXY(props.diag)}
            dataKey="y"
            type="linear"
            stroke="#808080"
            strokeWidth={1.6}
            strokeDasharray="10 5"
            dot={false}
            isAnimationActive={false}
          />
          <Line
            data={toXY(props.fit)}
            dataKey="y"
            type="linear"
            stroke="#0000ff"
            strokeWidth={5}
            dot={false}
            isAnimationActive={false}
          />
          <Line
            data={toXY(props.upper)}
            dataKey="y"
            type="monotone"
            stroke="#ff0000"
            strokeWidth={2}
            dot={false}
            isAnimationActive={false}
          />
          <Line
            data={toXY(props.lower)}
            dataKey="y"
            type="monotone"
            stroke="#ff0000"
            strokeWidth={2}
            dot={false}
            isAnimationActive={false}
          />
          <ReferenceArea
            x1={props.xDomain[0]}
            x2={props.xDomain[1]}
            y1={props.yDomain[0]}
            y2={props.yDomain[1]}
            fill="none"
            stroke="#000"
            strokeWidth={2}
            ifOverflow="visible"
          />
        </ComposedChart>
      </div>
    </>
  );
}

const Y_LABELS_LEFT: [number, string][] = [[10, "10"], [50, "50"], [100, "100"], [200, "200"], [500, "500"]];
const Y_LABELS_RIGHT: [number, string][] = [[10, "10"], [50, "50"], [100, "100"], [200, "200"]];

const NOTE = { fontFamily: "DejaVu Sans", fontSize: 16, fill: "#000" };
const MATH = { fontFamily: "DejaVu Serif", fontStyle: "italic" as const, fill: "#000" };

export default function App() {
  return (
    <div style={{ position: "absolute", left: 0, top: 0, width: W, height: H, background: "#fff" }}>
      <Panel
        core={MGII_CORE}
        coreR={2.9}
        spread={MGII_SPREAD}
        fit={MGII_FIT}
        upper={MGII_UPPER}
        lower={MGII_LOWER}
        diag={MGII_DIAG}
        xDomain={[0.01, 1.62]}
        yDomain={[6.4, 665]}
        xTicks={X_TICKS_FULL}
        yTicks={Y_TICKS_MGII}
        xMajor={[0.01, 0.1, 1]}
        yMajor={[10, 50, 100, 200, 500]}
        xLabels={[[0.01, "0.01"], [0.1, "0.1"], [1, "1.0"]]}
        yLabels={Y_LABELS_LEFT}
        xSide="top"
        ySide="left"
        box={{ left: 103, top: 45, right: 430, bottom: 398 }}
      />
      <Panel
        core={CIV_CORE}
        coreR={2.5}
        spread={CIV_SPREAD}
        fit={CIV_FIT}
        upper={CIV_UPPER}
        lower={CIV_LOWER}
        diag={CIV_DIAG}
        xDomain={[0.01, 0.82]}
        yDomain={[2, 296]}
        xTicks={X_TICKS_CIV}
        yTicks={Y_TICKS_CIV}
        xMajor={[0.01, 0.02, 0.1, 0.5]}
        yMajor={[10, 50, 100, 200]}
        xLabels={[[0.02, "0.02"], [0.1, "0.1"], [0.5, "0.5"]]}
        yLabels={Y_LABELS_RIGHT}
        xSide="top"
        ySide="right"
        box={{ left: 433, top: 45, right: 759, bottom: 398 }}
      />
      <Panel
        core={HB_CORE}
        coreR={2.6}
        spread={HB_SPREAD}
        fit={HB_FIT}
        upper={HB_UPPER}
        lower={HB_LOWER}
        diag={HB_DIAG}
        xDomain={[0.01, 1]}
        yDomain={[5, 720]}
        xTicks={X_TICKS_FULL}
        yTicks={Y_TICKS_HB}
        xMajor={[0.01, 0.1, 1]}
        yMajor={[10, 50, 100, 200, 500]}
        xLabels={[[0.01, "0.01"], [0.1, "0.1"], [1, "1.0"]]}
        yLabels={Y_LABELS_LEFT}
        xSide="bottom"
        ySide="left"
        box={{ left: 103, top: 403, right: 430, bottom: 758 }}
      />
      <Panel
        core={OIII_CORE}
        coreR={2.5}
        spread={OIII_SPREAD}
        fit={OIII_FIT}
        upper={OIII_UPPER}
        lower={OIII_LOWER}
        diag={OIII_DIAG}
        xDomain={[0.01, 1]}
        yDomain={[0.69, 200]}
        xTicks={X_TICKS_FULL}
        yTicks={Y_TICKS_OIII}
        xMajor={[0.01, 0.1, 1]}
        yMajor={[1, 10, 50, 100, 200]}
        xLabels={[[0.1, "0.1"], [1, "1.0"]]}
        yLabels={Y_LABELS_RIGHT}
        xSide="bottom"
        ySide="right"
        box={{ left: 433, top: 403, right: 759, bottom: 758 }}
      />
      <svg width={W} height={H} style={{ position: "absolute", left: 0, top: 0, pointerEvents: "none" }}>
        <text x={26} y={221} transform="rotate(-90 26 221)" textAnchor="middle" dominantBaseline="central" fontSize={32} {...MATH}>
          EW
        </text>
        <text x={26} y={580} transform="rotate(-90 26 580)" textAnchor="middle" dominantBaseline="central" fontSize={32} {...MATH}>
          EW
        </text>
        <text x={266} y={813} textAnchor="middle" fontSize={30} {...MATH}>
          σ<tspan fontSize={21} dy={7}>rms,g</tspan>
        </text>
        <text x={596} y={813} textAnchor="middle" fontSize={30} {...MATH}>
          σ<tspan fontSize={21} dy={7}>rms,g</tspan>
        </text>
        <text x={120} y={81} {...NOTE}>s=0.338 ±0.01</text>
        <text x={415} y={81} textAnchor="end" {...NOTE}>MgII</text>
        <text x={450} y={81} {...NOTE}>s=0.302 ±0.02</text>
        <text x={743} y={81} textAnchor="end" {...NOTE}>CIV</text>
        <text x={120} y={440} {...NOTE}>s=0.091 ±0.03</text>
        <text x={414} y={440} textAnchor="end" {...NOTE}>
          H<tspan fontFamily="DejaVu Serif" fontStyle="italic">β</tspan>
        </text>
        <text x={450} y={440} {...NOTE}>s=0.350 ±0.05</text>
        <text x={743} y={440} textAnchor="end" {...NOTE}>OIII5007</text>
      </svg>
    </div>
  );
}
